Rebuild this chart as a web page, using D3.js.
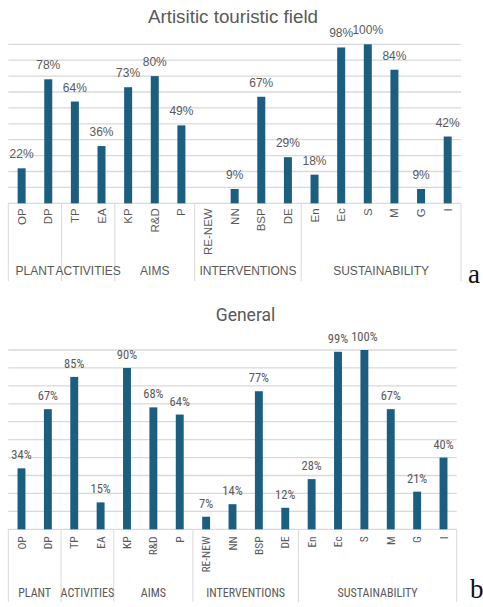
<!DOCTYPE html>
<html>
<head>
<meta charset="utf-8">
<script src="https://cdn.jsdelivr.net/npm/d3@7/dist/d3.min.js"></script>
<style>
html,body{margin:0;padding:0;background:#fff;}
svg{display:block;}
</style>
</head>
<body>
<svg id="chart" width="483" height="607"></svg>
<script>
const categories = ["OP","DP","TP","EA","KP","R&D","P","RE-NEW","NN","BSP","DE","En","Ec","S","M","G","I"];
const groupNames = ["PLANT","ACTIVITIES","AIMS","INTERVENTIONS","SUSTAINABILITY"];
const groupSizes = [2,2,3,4,6];
const valuesA = [22,78,64,36,73,80,49,0,9,67,29,18,98,100,84,9,42];
const valuesB = [34,67,85,15,90,68,64,7,14,77,12,28,99,100,67,21,40];
const yTicks = [0,10,20,30,40,50,60,70,80,90,100];
const titleA = "Artisitic touristic field";
const titleB = "General";

const svg = d3.select("#chart");
const barColor = "#1b5e80";
const gridColor = "#d9d9d9";
const textColor = "#595959";

function drawChart(o){
  const g = svg.append("g");
  const x = d3.scaleBand().domain(categories).range([o.x0, o.x1]).paddingInner(0.7).paddingOuter(0.35);
  const y = d3.scaleLinear().domain([0,100]).range([o.yBase, o.yTop]);
  const step = x.step();
  const cellStart = c => x(c) + x.bandwidth()/2 - step/2;

  // title
  g.append("text").attr("x", o.titleX).attr("y", o.titleY)
    .attr("text-anchor","middle").attr("font-family", o.titleFont)
    .attr("font-size", o.titleSize).attr("fill", textColor).text(o.title);

  // gridlines
  g.append("g").selectAll("line").data(yTicks).join("line")
    .attr("x1", o.x0).attr("x2", o.x1)
    .attr("y1", d => y(d)).attr("y2", d => y(d))
    .attr("stroke", gridColor).attr("stroke-width", 1.3);

  // bars
  g.append("g").selectAll("rect").data(categories).join("rect")
    .attr("x", c => x(c)).attr("width", x.bandwidth())
    .attr("y", (c,i) => y(o.values[i]))
    .attr("height", (c,i) => y(0) - y(o.values[i]))
    .attr("fill", barColor);

  // value labels
  g.append("g").selectAll("text").data(categories.filter((c,i)=>o.values[i]>0)).join("text")
    .attr("x", c => x(c) + x.bandwidth()/2)
    .attr("y", c => y(o.values[categories.indexOf(c)]) - o.labelGap)
    .attr("text-anchor","middle").attr("font-family", o.font)
    .attr("font-size", o.valueSize).attr("fill", textColor)
    .text(c => o.values[categories.indexOf(c)] + "%");

  // category labels (rotated)
  g.append("g").selectAll("text").data(categories).join("text")
    .attr("transform", c => `translate(${x(c)+x.bandwidth()/2},${o.yBase + o.catOffset}) rotate(-90)`)
    .attr("dy","0.35em").attr("text-anchor","end")
    .attr("font-family", o.font).attr("font-size", o.catSize).attr("fill", textColor)
    .text(c => c);

  // group dividers & labels
  let idx = 0;
  const bounds = [];
  groupSizes.forEach((n,gi) => {
    const s = cellStart(categories[idx]);
    const e = cellStart(categories[idx+n-1]) + step;
    bounds.push({s, e, name: groupNames[gi]});
    idx += n;
  });
  const divX = [bounds[0].s].concat(bounds.map(b => b.e));
  g.append("g").selectAll("line").data(divX).join("line")
    .attr("x1", d=>d).attr("x2", d=>d)
    .attr("y1", o.yBase).attr("y2", o.divBottom)
    .attr("stroke", gridColor).attr("stroke-width", 1);
  g.append("g").selectAll("text").data(bounds).join("text")
    .attr("x", b => (b.s+b.e)/2).attr("y", o.groupY)
    .attr("text-anchor","middle").attr("font-family", o.font)
    .attr("font-size", o.groupSize).attr("fill", textColor)
    .text(b => b.name);

  // panel letter
  g.append("text").attr("x", o.letterX).attr("y", o.letterY)
    .attr("font-family","Liberation Serif, DejaVu Serif, serif")
    .attr("font-size", 27).attr("fill","#111").text(o.letter);
}

drawChart({
  title: titleA, values: valuesA, letter: "a",
  x0: 8.3, x1: 461, yTop: 44.3, yBase: 203.3,
  titleX: 233, titleY: 23, titleFont: "Liberation Sans, Arial, sans-serif", titleSize: 18.8,
  font: "Liberation Sans, Arial, sans-serif",
  valueSize: 12, labelGap: 10, catSize: 11.5, catOffset: 5,
  groupSize: 12, groupY: 275, divBottom: 281,
  letterX: 468, letterY: 283
});

drawChart({
  title: titleB, values: valuesB, letter: "b",
  x0: 8.3, x1: 456.7, yTop: 350, yBase: 529.3,
  titleX: 245.5, titleY: 321, titleFont: "Roboto, sans-serif", titleSize: 17.5,
  font: "'Liberation Sans Narrow', 'Roboto Condensed', 'DejaVu Sans Condensed', sans-serif",
  valueSize: 12.5, labelGap: 9, catSize: 11.5, catOffset: 7,
  groupSize: 12, groupY: 597, divBottom: 602,
  letterX: 470, letterY: 598
});
</script>
</body>
</html>
